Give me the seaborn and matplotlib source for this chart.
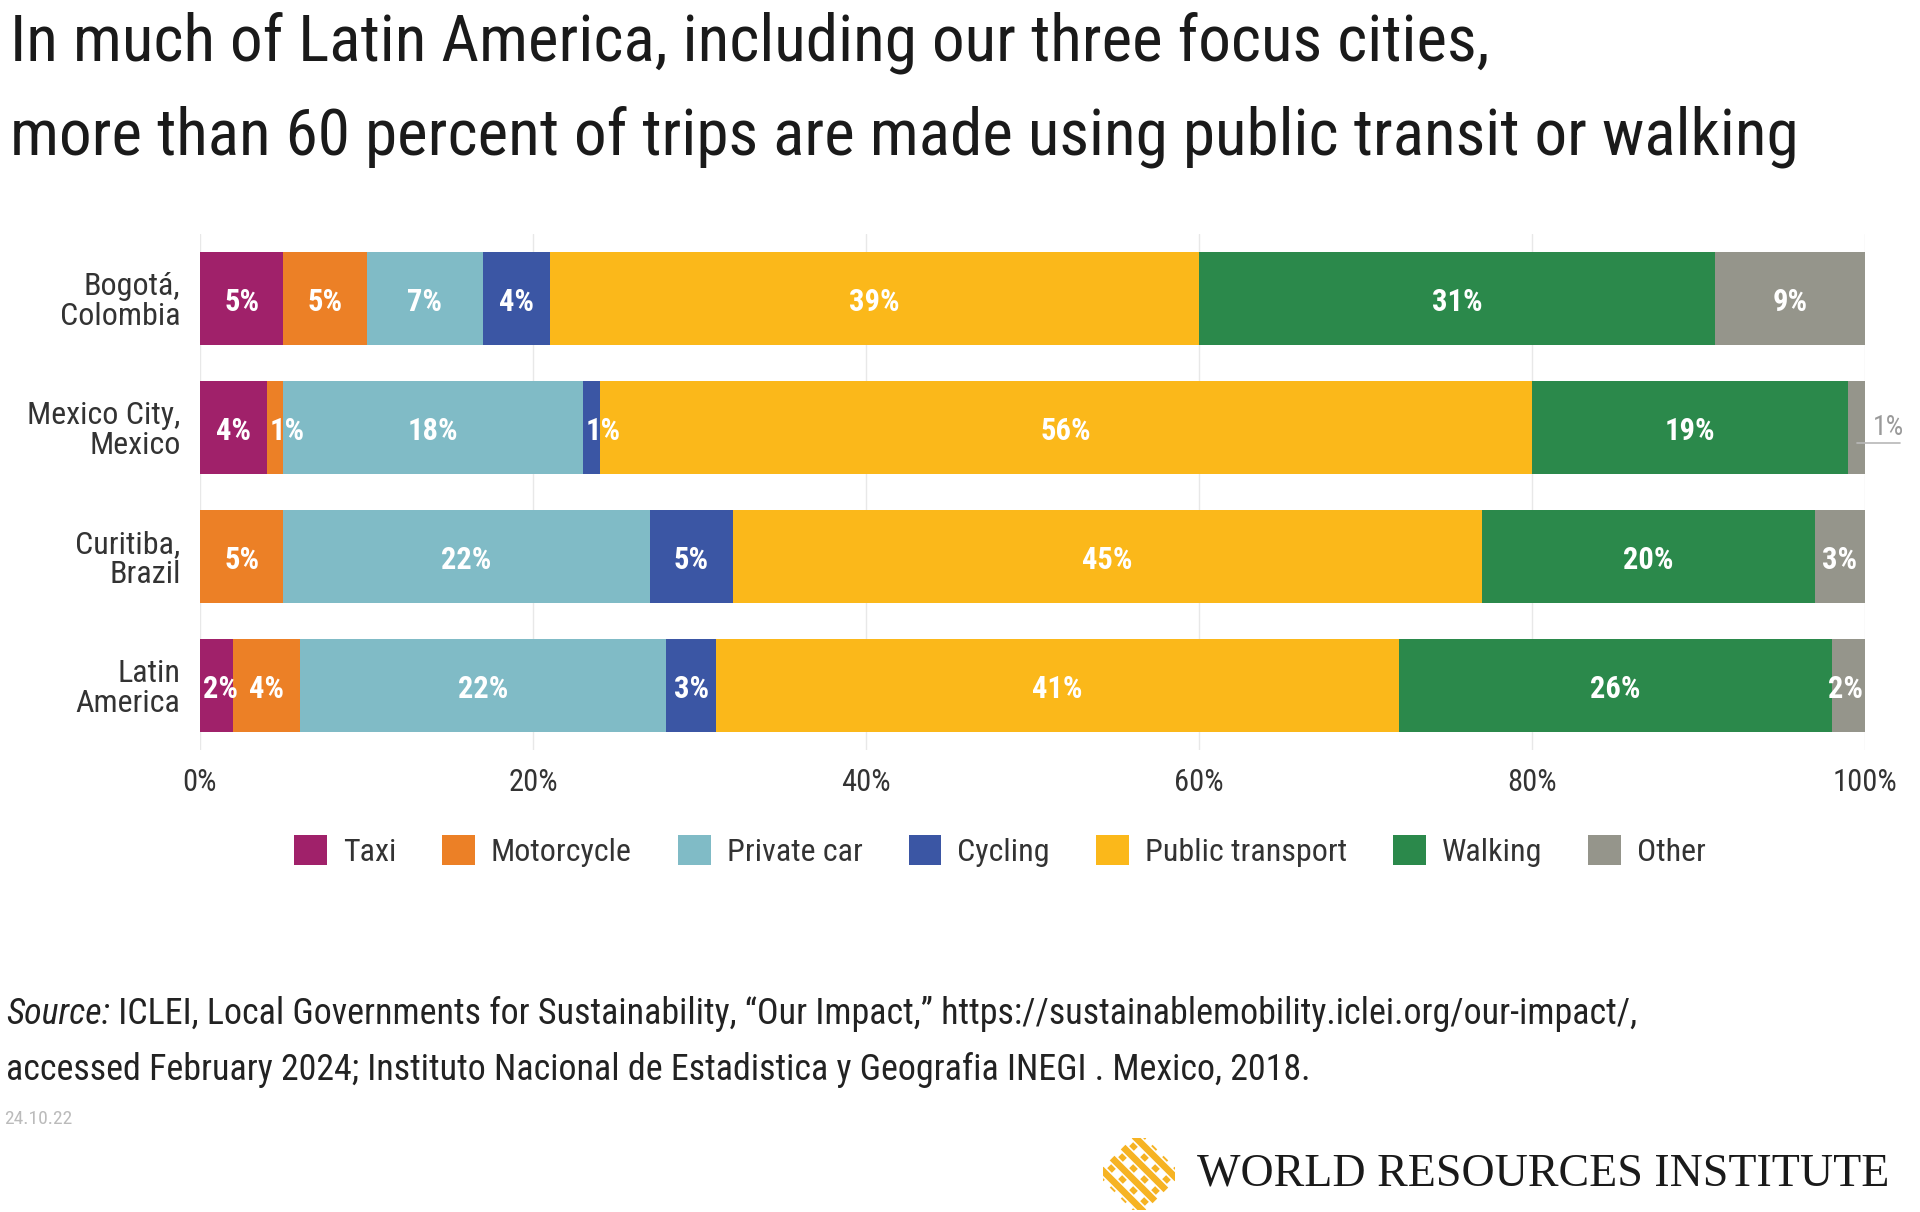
import matplotlib
matplotlib.use("Agg")
import matplotlib.pyplot as plt
import seaborn as sns
import numpy as np
from matplotlib import font_manager
from matplotlib.patches import Patch, Rectangle
from matplotlib.transforms import Affine2D

# ---------------- data ----------------
cities = ["Bogotá,\nColombia", "Mexico City,\nMexico", "Curitiba,\nBrazil", "Latin\nAmerica"]
modes = ["Taxi", "Motorcycle", "Private car", "Cycling", "Public transport", "Walking", "Other"]
taxi = [5, 4, 0, 2]
motorcycle = [5, 1, 5, 4]
private_car = [7, 18, 22, 22]
cycling = [4, 1, 5, 3]
public_transport = [39, 56, 45, 41]
walking = [31, 19, 20, 26]
other = [9, 1, 3, 2]
colors = ["#A0216A", "#EC8026", "#80BBC6", "#3B56A4", "#FBB81A", "#2B894B", "#95958B"]
xticks = [0, 20, 40, 60, 80, 100]

title_lines = ["In much of Latin America, including our three focus cities,",
               "more than 60 percent of trips are made using public transit or walking"]
source_label = "Source:"
source_line1 = " ICLEI, Local Governments for Sustainability, \u201cOur Impact,\u201d https://sustainablemobility.iclei.org/our-impact/,"
source_line2 = "accessed February 2024; Instituto Nacional de Estadistica y Geografia INEGI . Mexico, 2018."
date_text = "24.10.22"
brand_text = "WORLD RESOURCES INSTITUTE"

# ---------------- fonts ----------------
sns.set_theme(style="white")
avail = {f.name for f in font_manager.fontManager.ttflist}
def pick(*names):
    for n in names:
        if n in avail:
            return n
    return "DejaVu Sans"
COND = pick("Roboto Condensed", "Liberation Sans Narrow", "Open Sans Condensed", "Arial Narrow", "DejaVu Sans")
SERIF = pick("Liberation Serif", "DejaVu Serif")
plt.rcParams["font.family"] = [COND, "DejaVu Sans"]

W, H = 1920, 1212
fig = plt.figure(figsize=(W / 100, H / 100), dpi=100)
fig.patch.set_facecolor("white")
def fx(px): return px / W
def fy(py): return 1 - py / H

ax = fig.add_axes([fx(200), fy(750), 1665 / W, 516 / H])
ax.set_facecolor("white")

series = [taxi, motorcycle, private_car, cycling, public_transport, walking, other]
cum = np.cumsum(np.array(series, dtype=float), axis=0)

for i in range(len(modes) - 1, -1, -1):
    sns.barplot(x=cum[i], y=cities, orient="h", color=colors[i], saturation=1,
                width=0.72, linewidth=0, errorbar=None, ax=ax, zorder=2)

ax.set_xlim(0, 100)
ax.set_ylim(3.5, -0.5)
ax.set_xticks(xticks)
ax.set_xticklabels([f"{v}%" for v in xticks])
ax.xaxis.grid(True, color="#E8E8E8", lw=1, zorder=0)
ax.yaxis.grid(False)
ax.set_axisbelow(True)
for s in ax.spines.values():
    s.set_visible(False)
ax.tick_params(axis="x", length=0, pad=13, labelsize=22, labelcolor="#333333")
ax.tick_params(axis="y", length=0, pad=14, labelsize=23, labelcolor="#333333")
ax.set_xlabel("")
ax.set_ylabel("")
for lab in ax.get_yticklabels():
    lab.set_linespacing(1.02)

# ---------------- bar labels ----------------
inner = []
for j in range(len(cities)):
    for i in range(len(modes)):
        v = series[i][j]
        if v <= 0:
            continue
        left = cum[i][j] - v
        if i == len(modes) - 1 and v < 2:
            ax.text(101.4, j, f"{v}%", ha="center", va="center", color="#9A9A9A",
                    fontsize=20, clip_on=False)
            ax.plot([left + v / 2, 102.1], [j + 0.12, j + 0.12], color="#B8B8B8",
                    lw=1.2, clip_on=False)
            continue
        t = ax.text(left + v / 2, j + 0.03, f"{v}%", ha="center", va="center", color="white",
                    fontsize=22, fontweight="bold", zorder=5)
        inner.append((t, left, left + v))

fig.canvas.draw()
r = fig.canvas.get_renderer()
x0 = ax.transData.transform((0, 0))[0]
x100 = ax.transData.transform((100, 0))[0]
ppu = (x100 - x0) / 100.0
for t, sl, sr in inner:
    bb = t.get_window_extent(r)
    xd, yd = t.get_position()
    seg_l = x0 + sl * ppu
    seg_r = x0 + sr * ppu
    w = bb.width
    if w > (seg_r - seg_l) - 2:
        new_l = seg_l + 3
        if new_l + w > x100 - 2:
            new_l = x100 - 2 - w
        t.set_position(((new_l + w / 2 - x0) / ppu, yd))

# ---------------- legend ----------------
handles = [Patch(facecolor=c, edgecolor="none") for c in colors]
fig.legend(handles, modes, loc="center", bbox_to_anchor=(fx(1000), fy(851)), ncol=7,
           frameon=False, fontsize=23, handlelength=1.03, handleheight=1.06,
           handletextpad=0.5, columnspacing=1.44, labelcolor="#333333")

# ---------------- title ----------------
def fit(text_obj, target_w):
    fig.canvas.draw()
    w = text_obj.get_window_extent(fig.canvas.get_renderer()).width
    text_obj.set_fontsize(text_obj.get_fontsize() * target_w / w)
    return text_obj.get_fontsize()

t2 = fig.text(fx(10), fy(154), title_lines[1], fontsize=50, color="#1A1A1A", va="baseline", ha="left")
fs = fit(t2, 1790)
t1 = fig.text(fx(10), fy(60), title_lines[0], fontsize=fs, color="#1A1A1A", va="baseline", ha="left")

# ---------------- source ----------------
s0 = fig.text(fx(6), fy(1014), source_label, fontsize=24, style="italic", color="#222222", va="center", ha="left")
fig.canvas.draw()
w0 = s0.get_window_extent(fig.canvas.get_renderer()).width
s1 = fig.text(fx(6 + w0), fy(1014), source_line1, fontsize=24, color="#222222", va="center", ha="left")
fig.canvas.draw()
w1 = s1.get_window_extent(fig.canvas.get_renderer()).width
k = 1632 / (w0 + w1)
s0.set_fontsize(24 * k)
fig.canvas.draw()
w0 = s0.get_window_extent(fig.canvas.get_renderer()).width
s1.set_fontsize(24 * k)
s1.set_position((fx(6 + w0), fy(1014)))
fig.text(fx(6), fy(1070), source_line2, fontsize=24 * k, color="#222222", va="center", ha="left")

fig.text(fx(4), fy(1119), date_text, fontsize=14, color="#BBBBBB", va="center", ha="left")

# ---------------- brand ----------------
bt = fig.text(fx(1197), fy(1174), brand_text, fontsize=30, family=SERIF, color="#1A1A1A",
              va="center", ha="left")
fit(bt, 690)

lax = fig.add_axes([fx(1103), fy(1210), 72 / W, 72 / H])
lax.set_xlim(-1, 1)
lax.set_ylim(-1, 1)
lax.axis("off")
rot = Affine2D().rotate_deg(45).scale(0.72) + lax.transData
gold = "#F6B323"
for c in [-0.9, -0.3, 0.3, 0.9]:
    lax.add_patch(Rectangle((-1.2, c - 0.16), 2.4, 0.32, facecolor=gold, edgecolor="white",
                            lw=1.2, transform=rot))
for c in [-0.9, -0.3, 0.3, 0.9]:
    lax.add_patch(Rectangle((c - 0.16, -1.2), 0.32, 2.4, facecolor=gold, edgecolor="white",
                            lw=1.2, transform=rot))

fig.savefig("out.png", dpi=100, facecolor="white")
